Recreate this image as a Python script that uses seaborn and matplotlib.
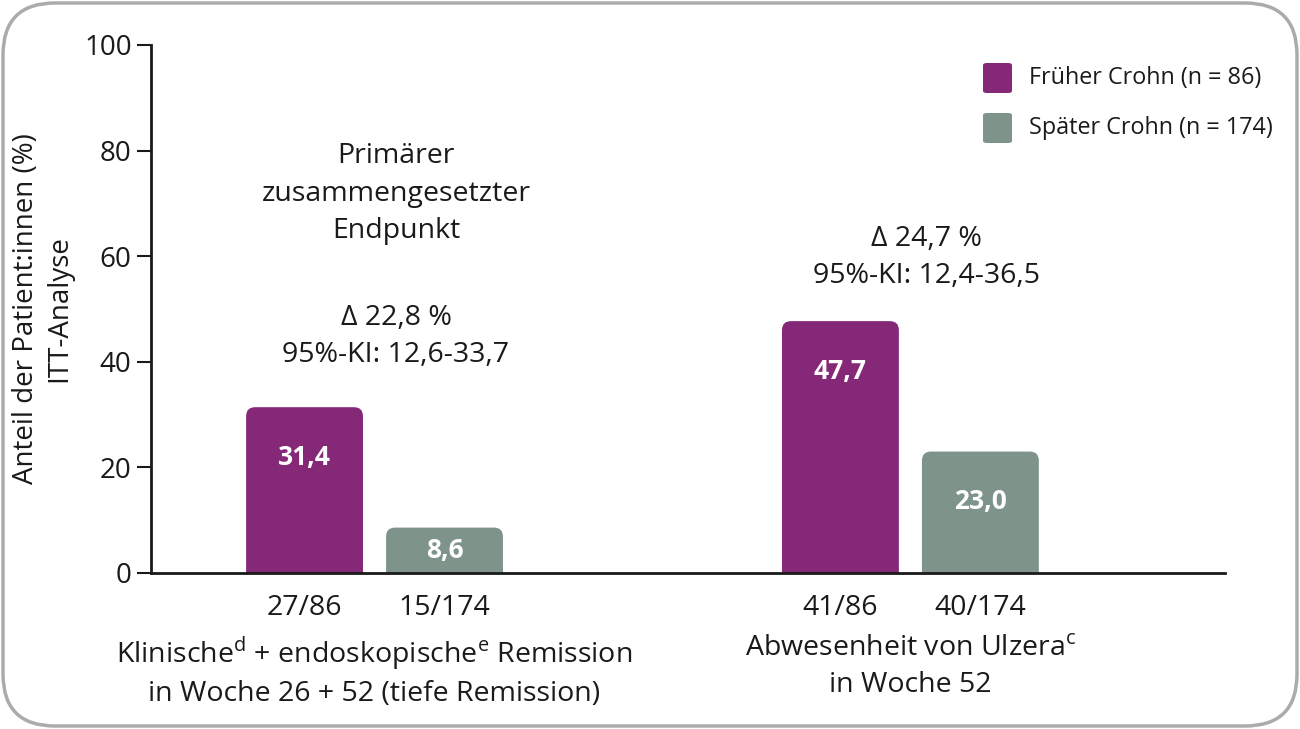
import seaborn as sns
import numpy as np
import matplotlib.pyplot as plt
import pandas as pd
from matplotlib.patches import FancyBboxPatch
import matplotlib.transforms as mtransforms

sns.set_theme(style="white")
plt.rcParams['font.family'] = ['Open Sans', 'DejaVu Sans']
plt.rcParams['mathtext.fontset'] = 'custom'
plt.rcParams['mathtext.rm'] = 'Open Sans'

# data
endpoints = ["Klinische$^{\\mathrm{d}}$ + endoskopische$^{\\mathrm{e}}$ Remission\nin Woche 26 + 52 (tiefe Remission)",
             "Abwesenheit von Ulzera$^{\\mathrm{c}}$\nin Woche 52"]
groups = ["Früher Crohn (n = 86)", "Später Crohn (n = 174)"]
frueh = [31.4, 47.7]
spaet = [8.6, 23.0]
frueh_n = ["27/86", "41/86"]
spaet_n = ["15/174", "40/174"]
titel = "Primärer\nzusammengesetzter\nEndpunkt"
deltas = ["Δ 22,8 %\n95%-KI: 12,6-33,7", "Δ 24,7 %\n95%-KI: 12,4-36,5"]
colors = ["#862878", "#7E948B"]

df = pd.DataFrame({
    "endpunkt": endpoints * 2,
    "gruppe": [groups[0]] * 2 + [groups[1]] * 2,
    "wert": frueh + spaet,
    "n": frueh_n + spaet_n,
})

ink = '#1a1a1a'
fig = plt.figure(figsize=(13, 7.29), dpi=100)
ax = fig.add_axes([0.1162, 0.214, 0.8261, 0.7243])

sns.barplot(data=df, x="endpunkt", y="wert", hue="gruppe", palette=colors,
            width=0.5224, gap=0.165, saturation=1, ax=ax, legend=False)

ax.set_xlim(-0.417, 1.587)
ax.set_ylim(0, 100)
ax.set_yticks(range(0, 101, 20))
ax.tick_params(axis='y', length=10, width=1.5, labelsize=20, pad=4, left=True, colors=ink)
ax.tick_params(axis='x', length=0, labelsize=20.5, pad=44, colors=ink)
ax.set_xticks([0, 1])
ax.set_xticklabels(endpoints, linespacing=1.42)
for sp in ['top', 'right']:
    ax.spines[sp].set_visible(False)
for sp in ['left', 'bottom']:
    ax.spines[sp].set_linewidth(2)
    ax.spines[sp].set_color(ink)
    ax.spines[sp].set_zorder(5)
ax.set_xlabel("")
ax.set_ylabel("Anteil der Patient:innen (%)\nITT-Analyse", fontsize=20, linespacing=1.25,
              labelpad=8, color=ink)

# rounded tops: replace bars by rounded boxes that reach below the axis (clipped)
fig.canvas.draw()
px_x = ax.transData.transform((1, 0))[0] - ax.transData.transform((0, 0))[0]
px_y = ax.transData.transform((0, 1))[1] - ax.transData.transform((0, 0))[1]
r = 9 / px_x
bars = list(ax.patches)
vals = []
for p in bars:
    x0, w, h = p.get_x(), p.get_width(), p.get_height()
    fc = p.get_facecolor()
    p.remove()
    box = FancyBboxPatch((x0, -10), w, h + 10,
                         boxstyle=f"round,pad=0,rounding_size={r}",
                         mutation_aspect=px_x / px_y,
                         fc=fc, ec='none', clip_on=True, zorder=2)
    ax.add_patch(box)
    vals.append((x0 + w / 2, h))

# value labels in bars
for xc, h in vals:
    y = h - 9.5 if h > 18 else h / 2
    ax.text(xc, y, f"{h:.1f}".replace('.', ','), ha='center', va='center',
            color='white', fontsize=19, fontweight='bold', zorder=6)

# patient counts under bars (bars come in order frueh, frueh, spaet, spaet)
trans = mtransforms.blended_transform_factory(ax.transData, ax.transAxes)
for (xc, h), c in zip(vals, frueh_n + spaet_n):
    ax.text(xc, -0.066, c, transform=trans, ha='center', va='center', fontsize=20.5, color=ink)

# annotations above the bars
ax.text(0.04, 71.8, titel, ha='center', va='center', fontsize=20.5, linespacing=1.45, color=ink)
ax.text(0.04, 44.8, deltas[0], ha='center', va='center', fontsize=20.5, linespacing=1.45, color=ink)
ax.text(1.03, 59.7, deltas[1], ha='center', va='center', fontsize=20.5, linespacing=1.45, color=ink)

# legend
for i, (g, c) in enumerate(zip(groups, colors)):
    yf = 1 - (78 + 50 * i) / 729
    fig.patches.append(FancyBboxPatch((983 / 1300, yf - 15 / 729), 29 / 1300, 30 / 729,
                                      boxstyle="round,pad=0,rounding_size=0.003",
                                      transform=fig.transFigure, fc=c, ec='none'))
    fig.text(1029 / 1300, yf, g, ha='left', va='center', fontsize=16.8, color=ink)

# rounded frame around the figure
fig.patches.append(FancyBboxPatch((3 / 1300, 3 / 729), 1294 / 1300, 723 / 729,
                                  boxstyle="round,pad=0,rounding_size=0.04",
                                  mutation_aspect=1300 / 729,
                                  transform=fig.transFigure, fc='none',
                                  ec='#ABABAB', lw=2.5))

fig.savefig("out.png", dpi=100)
